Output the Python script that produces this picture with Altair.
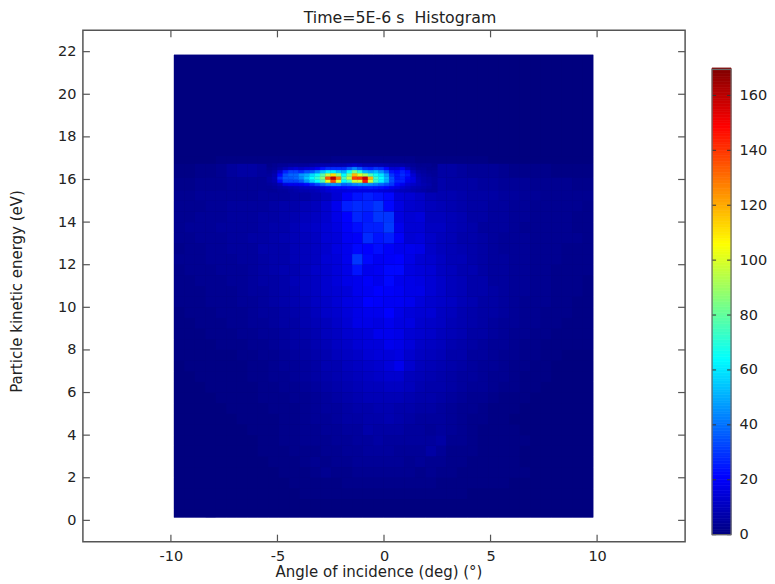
import altair as alt
import pandas as pd

# Histogram counts. Each background row spans 40 angle bins.
ANGLE_MIN = -9.86
ANGLE_STEP = 0.492
energy_edges = [0.14, 0.5, 1, 1.5, 2, 2.5, 3, 3.5, 4, 4.5, 5, 5.5, 6, 6.5, 7, 7.5, 8, 8.5, 9, 9.5, 10,
                10.5, 11, 11.5, 12, 12.5, 13, 13.5, 14, 14.5, 15, 15.5, 16.1, 16.75, 17.1, 21.85]
e_00 = [0]*40
e_05 = [0]*40
e_10 = [0,0,0,0,0,0,0,0,0,0,0,0,1,1,1,1,1,1,1,1,1,1,1,1,1,1,1,1,0,0,0,0,0,0,0,0,0,0,0,0]
e_15 = [0,0,0,0,0,0,0,0,0,0,0,1,1,1,1,1,2,2,2,2,2,2,2,2,2,1,1,1,1,1,1,1,0,0,0,0,0,0,0,0]
e_20 = [0,0,0,0,0,0,0,0,0,0,1,1,1,2,3,2,2,3,3,3,3,3,3,2,3,2,2,1,1,1,1,1,1,1,0,0,0,0,0,0]
e_25 = [0,0,0,0,0,0,0,0,0,1,1,1,2,3,2,3,3,4,4,4,4,4,3,4,3,3,2,2,1,1,1,1,1,0,0,0,0,0,0,0]
e_30 = [0,0,0,0,0,0,0,0,1,1,1,2,2,2,3,3,4,4,5,5,5,4,4,4,6,4,2,2,2,1,1,1,1,0,0,0,0,0,0,0]
e_35 = [0,0,0,0,0,0,0,0,1,1,2,2,3,3,3,4,4,5,5,6,5,5,5,5,5,6,3,3,2,1,1,1,1,1,0,0,0,0,0,0]
e_40 = [0,0,0,0,0,0,0,1,1,1,2,2,3,3,4,4,5,5,7,6,6,6,5,5,4,5,4,3,2,1,1,1,1,0,0,0,0,0,0,0]
e_45 = [0,0,0,0,0,0,1,1,1,1,2,2,3,4,4,5,6,6,7,7,8,7,6,5,5,5,4,3,2,2,1,1,0,0,0,0,0,0,0,0]
e_50 = [0,0,0,0,0,1,1,1,1,2,2,2,3,4,5,5,6,7,7,8,8,7,7,6,6,5,4,3,3,2,1,1,1,0,0,0,0,0,0,0]
e_55 = [0,0,0,0,1,1,1,1,2,2,2,3,3,4,5,6,7,8,9,9,9,9,8,7,7,6,5,4,3,3,2,1,1,1,0,0,0,0,0,0]
e_60 = [0,0,0,1,1,1,1,1,2,2,3,3,4,5,6,7,8,9,10,10,11,11,10,8,7,7,6,5,4,4,3,2,2,1,1,0,0,0,0,0]
e_65 = [0,0,1,1,1,1,1,2,2,3,3,4,5,6,7,8,9,10,11,12,13,13,10,9,8,7,6,5,5,4,3,3,2,1,1,1,0,0,0,0]
e_70 = [0,1,1,1,1,1,1,2,2,3,4,4,5,6,8,8,10,11,12,13,15,18,13,10,9,8,7,6,5,4,4,3,2,2,1,1,0,0,0,0]
e_75 = [1,1,1,1,1,1,2,2,3,3,4,5,6,7,8,10,11,12,14,15,15,16,13,11,10,9,7,7,5,5,4,3,3,2,2,1,1,0,0,0]
e_80 = [1,1,1,1,2,2,2,3,3,4,5,6,6,8,9,11,12,14,15,15,18,17,15,12,11,10,8,7,6,5,4,4,3,2,2,1,1,1,1,1]
e_85 = [1,1,1,2,2,2,3,3,4,4,5,6,7,8,10,11,13,14,15,18,18,17,14,13,12,10,9,8,6,6,5,4,3,3,2,2,1,1,1,1]
e_90 = [1,1,2,2,2,3,3,4,4,5,6,6,8,9,10,12,14,17,17,16,18,16,16,13,12,11,9,8,7,6,5,4,4,3,3,2,2,1,1,1]
e_95 = [1,2,2,2,3,3,3,4,5,5,6,7,8,10,12,13,15,17,18,18,21,17,15,14,14,11,10,8,7,6,6,5,4,3,3,2,2,2,1,1]
e_100 = [2,2,2,3,3,3,4,4,5,6,7,8,9,11,12,14,16,17,21,20,19,19,18,15,13,12,11,9,8,6,6,5,4,3,3,3,2,2,1,1]
e_105 = [2,2,2,3,3,3,4,5,5,6,7,8,10,11,13,14,15,18,19,21,20,19,17,17,14,12,10,9,7,7,6,5,4,4,3,3,2,2,2,1]
e_110 = [2,2,3,3,3,4,4,5,6,6,7,9,10,11,13,15,17,18,20,18,22,18,17,16,14,12,10,9,7,7,5,5,4,4,3,3,2,2,2,1]
e_115 = [2,3,3,3,4,4,4,5,6,7,8,8,10,12,13,15,17,24,18,19,22,22,16,15,14,11,10,8,8,6,5,5,4,4,3,3,2,2,2,2]
e_120 = [3,3,3,4,4,4,5,5,6,7,7,9,10,11,14,15,18,30,22,19,20,21,17,14,13,11,9,9,7,6,5,5,4,4,3,3,3,2,2,2]
e_125 = [2,3,3,4,4,5,5,5,7,7,7,9,10,11,13,16,18,22,21,23,20,18,18,17,12,10,9,8,7,6,5,4,4,4,3,3,3,2,2,2]
e_130 = [3,3,4,4,4,5,5,6,6,7,8,9,10,11,14,15,19,20,28,24,26,20,14,15,12,10,9,7,7,6,5,4,4,4,3,3,3,3,3,2]
e_135 = [3,4,4,4,5,5,5,5,6,7,7,9,11,12,14,16,20,23,26,26,31,18,14,14,11,11,9,8,7,5,5,5,4,3,3,3,3,3,2,2]
e_140 = [3,3,4,4,4,5,5,5,6,6,7,8,10,11,13,17,21,27,25,30,30,16,14,15,10,10,9,8,6,6,5,5,4,4,3,3,3,3,2,2]
e_145 = [3,3,3,4,4,5,5,5,5,6,7,7,9,10,13,18,26,28,27,30,22,16,13,12,10,9,8,7,6,6,5,5,4,4,3,3,3,3,3,2]
e_150 = [3,3,4,4,4,4,4,4,5,5,5,6,6,8,10,14,20,24,26,24,22,15,14,12,9,8,8,7,6,6,6,5,5,4,4,3,3,3,3,3]
e_155 = [2,2,3,3,3,4,4,4,4,4,5,5,5,6,8,10,12,14,14,14,14,12,11,10,7,7,6,6,6,5,5,4,4,4,3,3,3,3,2,2]
e_161 = [1,1,2,2,3,5,6,6,5,5,5,5,5,5,5,5,5,5,5,5,5,5,5,5,5,6,6,5,4,4,4,3,2,2,2,2,1,1,1,1]
e_168 = [0,0,0,0,1,1,1,1,1,1,1,1,1,1,1,2,2,2,2,2,2,2,2,1,1,1,1,1,1,1,0,0,0,0,0,0,0,0,0,0]
e_171 = [0]*40
background_rows = [e_00, e_05, e_10, e_15, e_20, e_25, e_30, e_35, e_40, e_45, e_50, e_55, e_60, e_65,
                   e_70, e_75, e_80, e_85, e_90, e_95, e_100, e_105, e_110, e_115, e_120, e_125, e_130,
                   e_135, e_140, e_145, e_150, e_155, e_161, e_168, e_171]

# Finer reading of the bright band near 16 eV (32 bins of 0.25 deg, 9 rows).
BAND_MIN = -5.5
BAND_STEP = 0.25
band_edges = [15.4, 15.55, 15.7, 15.85, 16.0, 16.15, 16.3, 16.45, 16.6, 16.75]
band_0 = [4,4,5,5,6,7,8,8,9,10,12,14,15,15,15,16,16,16,16,16,16,15,14,13,11,10,9,8,7,6,5,5]
band_1 = [4,5,6,7,8,9,10,11,12,13,15,18,21,22,22,23,23,24,24,25,24,23,21,18,16,13,11,9,8,7,6,5]
band_2 = [5,6,9,16,18,18,19,22,26,32,38,44,46,44,38,40,44,46,46,44,42,38,34,30,22,18,14,12,10,8,7,5]
band_3 = [6,8,22,32,32,32,36,46,56,64,76,102,135,100,64,72,98,100,145,98,72,62,50,34,26,26,18,16,10,7,6,5]
band_4 = [6,9,28,36,36,38,44,54,64,72,86,135,160,128,76,96,138,140,158,118,74,64,52,34,24,26,20,16,9,7,6,5]
band_5 = [5,8,22,34,38,38,46,50,58,66,78,96,112,88,64,84,118,100,92,76,66,60,48,30,24,28,24,14,8,6,5,4]
band_6 = [4,6,14,26,32,32,28,34,36,44,54,62,62,54,50,64,84,70,52,48,52,46,36,24,22,26,22,10,6,5,4,4]
band_7 = [3,4,6,9,12,14,12,14,15,18,24,28,28,28,28,36,44,36,28,26,30,28,22,14,14,18,10,6,4,4,3,3]
band_8 = [2,3,4,4,5,5,5,5,6,7,8,8,8,8,8,10,12,10,8,8,8,8,7,6,6,6,5,4,3,3,3,2]
band_rows = [band_0, band_1, band_2, band_3, band_4, band_5, band_6, band_7, band_8]

x_ticks = [-10, -5, 0, 5, 10]
y_ticks = [0, 2, 4, 6, 8, 10, 12, 14, 16, 18, 20, 22]
bar_ticks = [0, 20, 40, 60, 80, 100, 120, 140, 160]
bar_levels = list(range(0, 170))

jet_domain = [0, 21, 64, 106, 149, 170]
jet_range = ["#00007f", "#0000ff", "#00ffff", "#ffff00", "#ff0000", "#7f0000"]
FRAME = "#555555"
TEXT = "#222222"
FONT = "DejaVu Sans"

bg = []
for r, row in enumerate(background_rows):
    for c, v in enumerate(row):
        bg.append(dict(x0=ANGLE_MIN + c * ANGLE_STEP, x1=ANGLE_MIN + (c + 1) * ANGLE_STEP,
                       y0=energy_edges[r], y1=energy_edges[r + 1], v=v))
band = []
for r, row in enumerate(band_rows):
    for c, v in enumerate(row):
        band.append(dict(x0=BAND_MIN + c * BAND_STEP, x1=BAND_MIN + (c + 1) * BAND_STEP,
                         y0=band_edges[r], y1=band_edges[r + 1], v=v))
bg = pd.DataFrame(bg)
band = pd.DataFrame(band)
backing = pd.DataFrame({"x0": [ANGLE_MIN], "x1": [ANGLE_MIN + 40 * ANGLE_STEP],
                        "y0": [energy_edges[0]], "y1": [energy_edges[-1]], "v": [0]})

color_scale = alt.Scale(domain=jet_domain, range=jet_range, interpolate="rgb", clamp=True)
x_scale = alt.Scale(domain=[-14.13, 14.13], nice=False, zero=False)
y_scale = alt.Scale(domain=[-1, 23], nice=False, zero=False)

back = alt.Chart(backing).mark_rect().encode(
    x=alt.X("x0:Q", scale=x_scale, axis=alt.Axis(
        values=x_ticks, title="Angle of incidence (deg) (°)", ticks=False, domain=False, grid=False,
        labelPadding=8, titlePadding=1, titleX=296, labelExpr="toString(datum.value)")),
    x2="x1:Q",
    y=alt.Y("y0:Q", scale=y_scale, axis=alt.Axis(
        values=y_ticks, title="Particle kinetic energy (eV)", ticks=False, domain=False, grid=False,
        labelPadding=7, titlePadding=33, titleY=261)),
    y2="y1:Q",
    color=alt.Color("v:Q", scale=color_scale, legend=None),
)
heat = alt.Chart(bg).mark_rect().encode(
    x=alt.X("x0:Q", scale=x_scale), x2="x1:Q",
    y=alt.Y("y0:Q", scale=y_scale), y2="y1:Q",
    color=alt.Color("v:Q", scale=color_scale, legend=None),
)
hot = alt.Chart(band).mark_rect(strokeWidth=0.4).encode(
    x=alt.X("x0:Q", scale=x_scale), x2="x1:Q",
    y=alt.Y("y0:Q", scale=y_scale), y2="y1:Q",
    color=alt.Color("v:Q", scale=color_scale, legend=None),
    stroke=alt.Stroke("v:Q", scale=color_scale, legend=None),
)

xt = pd.DataFrame({"t": x_ticks})
yt = pd.DataFrame({"t": y_ticks})
tick_style = dict(color=FRAME, strokeWidth=1.2)
bottom = alt.Chart(xt).mark_rule(**tick_style).encode(x="t:Q", y=alt.value(505), y2=alt.value(512))
top = alt.Chart(xt).mark_rule(**tick_style).encode(x="t:Q", y=alt.value(0), y2=alt.value(7))
left = alt.Chart(yt).mark_rule(**tick_style).encode(y="t:Q", x=alt.value(0), x2=alt.value(7))
right = alt.Chart(yt).mark_rule(**tick_style).encode(y="t:Q", x=alt.value(596), x2=alt.value(603))

main = alt.layer(back, heat, hot, bottom, top, left, right).properties(
    width=603, height=512,
    view=alt.ViewConfig(stroke=FRAME, strokeWidth=1.5),
    title=alt.TitleParams("Time=5E-6 s \u00a0Histogram", dx=16, fontSize=15.8, fontWeight="normal",
                          font=FONT, color=TEXT, offset=3),
)

bar_df = pd.DataFrame({"v0": bar_levels})
bar_df["v1"] = bar_df["v0"] + 1
bar_df["mid"] = bar_df["v0"] + 0.5
bar_y = alt.Scale(domain=[-2.55, 183.7], nice=False, zero=False)
bar = alt.Chart(bar_df).mark_rect(strokeWidth=0.7).encode(
    x=alt.value(0), x2=alt.value(19),
    y=alt.Y("v0:Q", scale=bar_y, axis=alt.Axis(
        values=bar_ticks, orient="right", title=None, ticks=False, domain=False, grid=False, labelPadding=8)),
    y2="v1:Q",
    color=alt.Color("mid:Q", scale=color_scale, legend=None),
    stroke=alt.Stroke("mid:Q", scale=color_scale, legend=None),
)
bt = pd.DataFrame({"t": bar_ticks})
bar_left = alt.Chart(bt).mark_rule(color="#333333", strokeWidth=1).encode(y="t:Q", x=alt.value(0), x2=alt.value(4))
bar_right = alt.Chart(bt).mark_rule(color="#333333", strokeWidth=1).encode(y="t:Q", x=alt.value(15), x2=alt.value(19))
outline = alt.Chart(pd.DataFrame({"a": [0], "b": [169.5]})).mark_rect(
    fillOpacity=0, stroke="#666666", strokeWidth=1.2).encode(
    x=alt.value(0), x2=alt.value(19), y="a:Q", y2="b:Q")
colorbar = alt.layer(bar, bar_left, bar_right, outline).properties(
    width=19, height=512, view=alt.ViewConfig(stroke=None))

chart = alt.hconcat(main, colorbar, spacing=24, padding=0).resolve_scale(
    color="independent", stroke="independent"
).configure_axis(labelFont=FONT, titleFont=FONT, labelFontSize=14.5, titleFontSize=15,
                 labelColor=TEXT, titleColor=TEXT, titleFontWeight="normal")

chart.save("out.html", embed_options={"renderer": "svg", "actions": False})
